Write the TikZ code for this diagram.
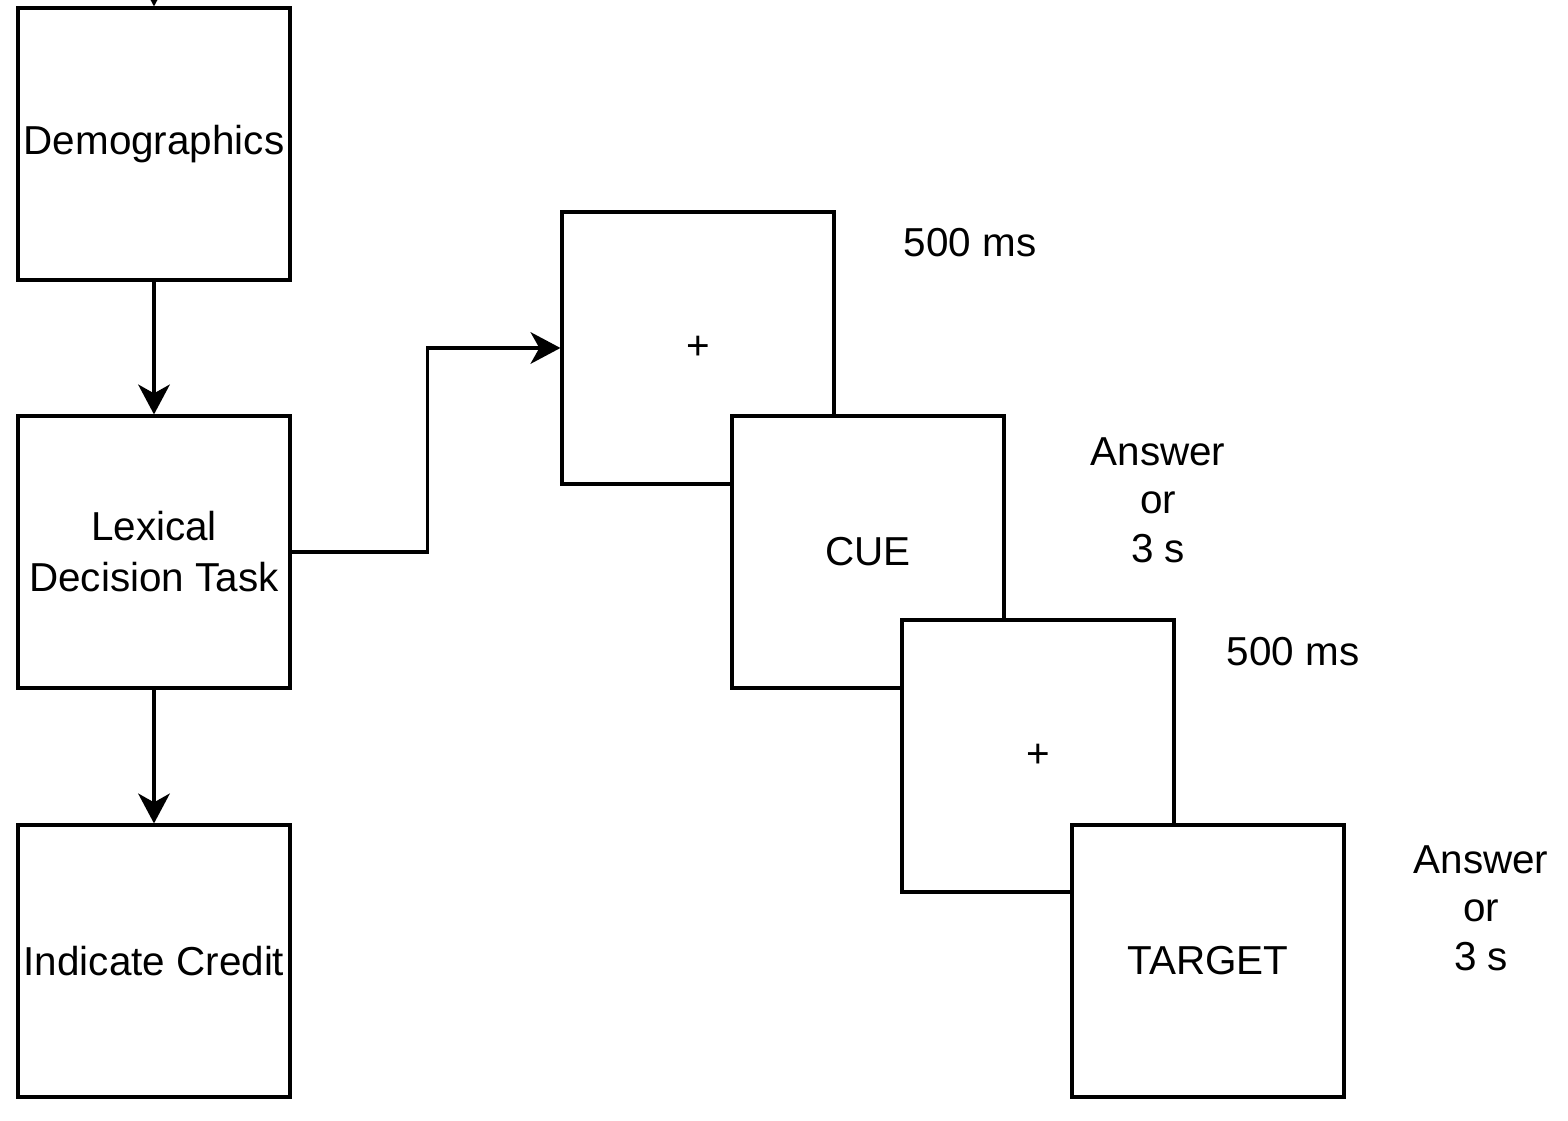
\documentclass[tikz,border=0pt]{standalone}
\usepackage{fontspec}
\setmainfont{Liberation Sans}
\usetikzlibrary{arrows.meta, positioning}
\definecolor{mainBlack}{gray}{0.0}

\tikzset{
    slide/.style={draw=mainBlack, fill=white, line width=0.9pt, minimum width=2.72cm, minimum height=2.72cm, inner sep=0pt, align=center, font=\fontsize{11.5}{14.5}\selectfont},
    timing/.style={align=center, font=\fontsize{11.5}{13.8}\selectfont},
    flow/.style={-{Stealth[length=8.5pt, width=9pt, inset=2.5pt]}, line width=0.9pt, mainBlack}
}

\begin{document}
\begin{tikzpicture}[scale=1.0, >=stealth]
    \useasboundingbox (0,0) rectangle (15.68,11.2);
    \coordinate (In) at (1.54, 11.8);

    % Procedure
    \node[slide] (demo) at (1.54, 9.76) {Demographics};
    \node[slide] (ldt) at (1.54, 5.68) {Lexical\\Decision Task};
    \node[slide] (credit) at (1.54, 1.59) {Indicate Credit};

    \draw[flow] (In) -- (demo);
    \draw[flow] (demo) -- (ldt);
    \draw[flow] (ldt) -- (credit);

    % Trial
    \node[slide] (fixA) at (6.98, 7.72) {+};
    \node[slide] (cue) at (8.68, 5.68) {CUE};
    \node[slide] (fixB) at (10.38, 3.64) {+};
    \node[slide] (target) at (12.08, 1.59) {TARGET};

    \draw[flow] (ldt.east) -- ++(1.36,0) |- (fixA.west);

    \node[timing] (tA) at (9.70, 8.77) {500 ms};
    \node[timing] (tB) at (11.58, 6.20) {Answer\\or\\3 s};
    \node[timing] (tC) at (12.93, 4.68) {500 ms};
    \node[timing] (tD) at (14.81, 2.12) {Answer\\or\\3 s};
\end{tikzpicture}
\end{document}
